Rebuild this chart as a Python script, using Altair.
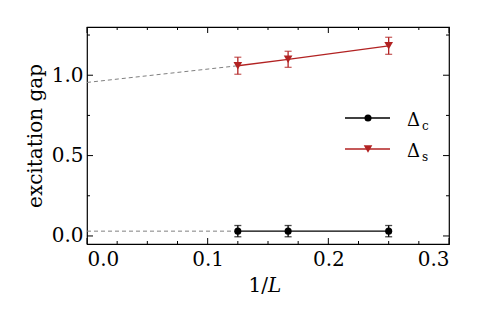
import altair as alt
import pandas as pd

# data
inv_L = [0.125, 1/6, 0.25]
gap_c = [0.03, 0.03, 0.03]
err_c = [0.035, 0.035, 0.035]
gap_s = [1.059, 1.099, 1.183]
err_s = [0.053, 0.05, 0.053]
extrap_x = [0.0, 0.125]
extrap_s = [0.955, 1.059]
extrap_c = [0.03, 0.03]
x_major = [0.0, 0.1, 0.2, 0.3]
x_minor = [0.025, 0.05, 0.075, 0.125, 0.15, 0.175, 0.225, 0.25, 0.275]
y_major = [0.0, 0.5, 1.0]
y_minor = [0.25, 0.75, 1.25]

W, H = 362, 217
FONT = "DejaVu Serif"
RED = "#b22222"
FS = 20

xs = alt.Scale(domain=[0, 0.3], nice=False, zero=False)
ys = alt.Scale(domain=[-0.05, 1.3], nice=False, zero=False)

pts = pd.DataFrame({
    "x": inv_L * 2,
    "y": gap_c + gap_s,
    "lo": [g - e for g, e in zip(gap_c, err_c)] + [g - e for g, e in zip(gap_s, err_s)],
    "hi": [g + e for g, e in zip(gap_c, err_c)] + [g + e for g, e in zip(gap_s, err_s)],
    "s": ["c"] * 3 + ["s"] * 3,
})
ext = pd.DataFrame({"x": extrap_x * 2, "y": extrap_c + extrap_s, "s": ["c", "c", "s", "s"]})

X = alt.X("x:Q", scale=xs, axis=alt.Axis(values=x_major, format=".1f", title=None,
                                         tickSize=0, labelPadding=5, labelFont=FONT,
                                         labelFontSize=FS, labelColor="black"))
Y = alt.Y("y:Q", scale=ys, axis=alt.Axis(values=y_major, format=".1f", title="excitation gap",
                                         tickSize=0, labelPadding=4, titlePadding=6,
                                         labelFont=FONT, titleFont=FONT, labelFontSize=FS,
                                         titleFontSize=FS, labelColor="black", titleColor="black",
                                         titleFontWeight="normal"))
color = alt.Color("s:N", scale=alt.Scale(domain=["c", "s"], range=["black", RED]), legend=None)
shape = alt.Shape("s:N", scale=alt.Scale(domain=["c", "s"], range=["circle", "triangle-down"]), legend=None)
size = alt.Size("s:N", scale=alt.Scale(domain=["c", "s"], range=[50, 75]), legend=None)

dash = alt.Chart(ext).mark_line(strokeDash=[4, 3], color="#808080", strokeWidth=1).encode(
    x=X, y=Y, detail="s:N")
lines = alt.Chart(pts).mark_line(strokeWidth=1.3).encode(x=X, y=Y, color=color)
err = alt.Chart(pts).mark_rule(strokeWidth=1.3).encode(x=X, y="lo:Q", y2="hi:Q", color=color)
caps_lo = alt.Chart(pts).mark_tick(orient="horizontal", size=7, thickness=1.3).encode(x=X, y="lo:Q", color=color)
caps_hi = alt.Chart(pts).mark_tick(orient="horizontal", size=7, thickness=1.3).encode(x=X, y="hi:Q", color=color)
marks = alt.Chart(pts).mark_point(filled=True, opacity=1).encode(
    x=X, y=Y, color=color, shape=shape, size=size)

def xticks(vals, ln):
    d = pd.DataFrame({"x": vals})
    b = alt.Chart(d).mark_rule(color="black", strokeWidth=1).encode(
        x=alt.X("x:Q", scale=xs), y=alt.value(H), y2=alt.value(H - ln))
    t = alt.Chart(d).mark_rule(color="black", strokeWidth=1).encode(
        x=alt.X("x:Q", scale=xs), y=alt.value(0), y2=alt.value(ln))
    return b + t

def yticks(vals, ln):
    d = pd.DataFrame({"y": vals})
    l = alt.Chart(d).mark_rule(color="black", strokeWidth=1).encode(
        y=alt.Y("y:Q", scale=ys), x=alt.value(0), x2=alt.value(ln))
    r = alt.Chart(d).mark_rule(color="black", strokeWidth=1).encode(
        y=alt.Y("y:Q", scale=ys), x=alt.value(W), x2=alt.value(W - ln))
    return l + r

one = pd.DataFrame({"a": [0]})
leg_items = [("c", "black", "circle", 50, 91), ("s", RED, "triangle-down", 75, 122)]
leg = []
for sub, col, shp, sz, yy in leg_items:
    leg.append(alt.Chart(one).mark_rule(color=col, strokeWidth=1.3).encode(
        x=alt.value(258), x2=alt.value(303), y=alt.value(yy)))
    leg.append(alt.Chart(one).mark_point(filled=True, size=sz, color=col, shape=shp, opacity=1).encode(
        x=alt.value(281), y=alt.value(yy)))
    leg.append(alt.Chart(one).mark_text(text="Δ", font=FONT, fontSize=18, align="left",
                                        baseline="alphabetic", color="black").encode(
        x=alt.value(320), y=alt.value(yy + 8)))
    leg.append(alt.Chart(one).mark_text(text=sub, font=FONT, fontSize=12, align="left",
                                        baseline="alphabetic", color="black").encode(
        x=alt.value(335), y=alt.value(yy + 12)))

# x-axis title "1/L" with italic L
xt1 = alt.Chart(one).mark_text(text="1/", font=FONT, fontSize=FS, align="right",
                               baseline="alphabetic", color="black").encode(
    x=alt.value(181), y=alt.value(H + 48))
xt2 = alt.Chart(one).mark_text(text="L", font=FONT, fontSize=FS, fontStyle="italic", align="left",
                               baseline="alphabetic", color="black").encode(
    x=alt.value(181), y=alt.value(H + 48))

chart = alt.layer(
    dash, lines, err, caps_lo, caps_hi, marks,
    xticks(x_major, 6), xticks(x_minor, 3), yticks(y_major, 6), yticks(y_minor, 3),
    *leg, xt1, xt2
).properties(
    width=W, height=H,
    autosize=alt.AutoSizeParams(type="none"),
    padding={"left": 79, "top": 19, "right": 30, "bottom": 70},
).configure(font=FONT).configure_view(stroke="black", strokeWidth=1.2).configure_axis(
    domain=False, grid=False
)

chart.save("out.html", embed_options={"renderer": "svg", "actions": False})
